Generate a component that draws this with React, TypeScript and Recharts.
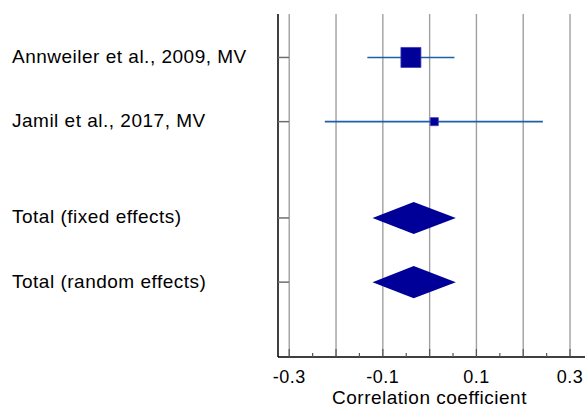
import React from 'react';
import {
  ComposedChart,
  XAxis,
  YAxis,
  ZAxis,
  CartesianGrid,
  Scatter,
  Line,
  Area,
} from 'recharts';

// studies and pooled results
const studyNames = ['Annweiler et al., 2009, MV', 'Jamil et al., 2017, MV'];
const studyR = [-0.04, 0.01];
const studyLow = [-0.133, -0.224];
const studyHigh = [0.053, 0.242];
const studyWeight = [86.2, 13.8];

const totalNames = ['Total (fixed effects)', 'Total (random effects)'];
const totalR = [-0.034, -0.034];
const totalLow = [-0.122, -0.122];
const totalHigh = [0.056, 0.056];

// row slots on the vertical axis (blank slot between studies and totals)
const studyRows = [1, 2];
const totalRows = [3.5, 4.5];

const xTicks = [-0.3, -0.25, -0.2, -0.15, -0.1, -0.05, 0, 0.05, 0.1, 0.15, 0.2, 0.25, 0.3];
const xMajor = [-0.3, -0.2, -0.1, 0, 0.1, 0.2, 0.3];
const xLabelled = [-0.3, -0.1, 0.1, 0.3];

const NAVY = '#000099';
const CI_BLUE = '#1f5fa8';
const FONT = '"Liberation Sans", Arial, sans-serif';
const DIAMOND_HALF = 0.25;

const rowLabels = [...studyNames, ...totalNames];
const rowValues = [...studyRows, ...totalRows];

const squares = studyR.map((r, i) => ({ x: r, y: studyRows[i], w: studyWeight[i] }));
const ciLines = studyR.map((_, i) => [
  { x: studyLow[i], y: studyRows[i] },
  { x: studyHigh[i], y: studyRows[i] },
]);
const diamonds = totalR.map((r, i) => [
  { x: totalLow[i], band: [totalRows[i], totalRows[i]] },
  { x: r, band: [totalRows[i] - DIAMOND_HALF, totalRows[i] + DIAMOND_HALF] },
  { x: totalHigh[i], band: [totalRows[i], totalRows[i]] },
]);

const near = (list: number[], v: number) => list.some((t) => Math.abs(t - v) < 1e-6);

const XTick = (props: any) => {
  const { x, y, payload } = props;
  const major = near(xMajor, payload.value);
  return (
    <g>
      <line x1={x} x2={x} y1={y} y2={y - (major ? 8 : 4)} stroke="#555" strokeWidth={1.2} />
      {near(xLabelled, payload.value) && (
        <text
          x={x}
          y={y + 26}
          textAnchor="middle"
          fontFamily={FONT}
          fontSize={18}
          fill="#000"
          style={{ letterSpacing: '0.5px' }}
        >
          {payload.value.toFixed(1)}
        </text>
      )}
    </g>
  );
};

const YTick = (props: any) => {
  const { x, y, payload } = props;
  const idx = rowValues.findIndex((v) => Math.abs(v - payload.value) < 1e-6);
  return (
    <g>
      <line x1={x} x2={x + 11} y1={y} y2={y} stroke="#6e6e6e" strokeWidth={1.5} />
      <text
        x={12}
        y={y + 5.5}
        textAnchor="start"
        fontFamily={FONT}
        fontSize={19}
        fill="#000"
        style={{ letterSpacing: '0.5px' }}
      >
        {rowLabels[idx]}
      </text>
    </g>
  );
};

const AxisTitle = (props: any) => {
  const { viewBox } = props;
  return (
    <text
      x={viewBox.x + viewBox.width / 2 - 2}
      y={viewBox.y + 47}
      textAnchor="middle"
      fontFamily={FONT}
      fontSize={19}
      fill="#000"
      style={{ letterSpacing: '0.5px' }}
    >
      Correlation coefficient
    </text>
  );
};

export default function App() {
  return (
    <div style={{ width: 585, height: 415 }}>
      <style>{'body{margin:0}'}</style>
      <ComposedChart width={585} height={415} margin={{ top: 14, right: 0, left: 0, bottom: 0 }}>
        <CartesianGrid
          horizontal={false}
          verticalValues={xMajor}
          stroke="#a0a0a0"
          strokeWidth={1.4}
        />
        <XAxis
          dataKey="x"
          type="number"
          domain={[-0.324, 0.332]}
          allowDataOverflow
          ticks={xTicks}
          interval={0}
          tickSize={0}
          tickMargin={0}
          tickLine={false}
          tick={<XTick />}
          axisLine={{ stroke: '#000', strokeWidth: 1.5 }}
          height={58}
          label={<AxisTitle />}
        />
        <YAxis
          type="number"
          domain={[0.323, 5.666]}
          reversed
          allowDataOverflow
          ticks={rowValues}
          interval={0}
          tickSize={0}
          tickMargin={0}
          tickLine={false}
          tick={<YTick />}
          axisLine={{ stroke: '#000', strokeWidth: 1.5 }}
          width={278}
        />
        <ZAxis dataKey="w" type="number" domain={[0, 100]} range={[0, 464]} />
        {diamonds.map((d, i) => (
          <Area
            key={`d${i}`}
            data={d}
            dataKey="band"
            type="linear"
            stroke="none"
            fill={NAVY}
            fillOpacity={1}
            dot={false}
            activeDot={false}
            isAnimationActive={false}
          />
        ))}
        {ciLines.map((d, i) => (
          <Line
            key={`l${i}`}
            data={d}
            dataKey="y"
            type="linear"
            stroke={CI_BLUE}
            strokeWidth={1.6}
            dot={false}
            activeDot={false}
            isAnimationActive={false}
          />
        ))}
        <Scatter
          data={squares}
          dataKey="y"
          shape="square"
          fill={NAVY}
          stroke="#3a3ab8"
          strokeWidth={0.8}
          isAnimationActive={false}
        />
      </ComposedChart>
    </div>
  );
}
